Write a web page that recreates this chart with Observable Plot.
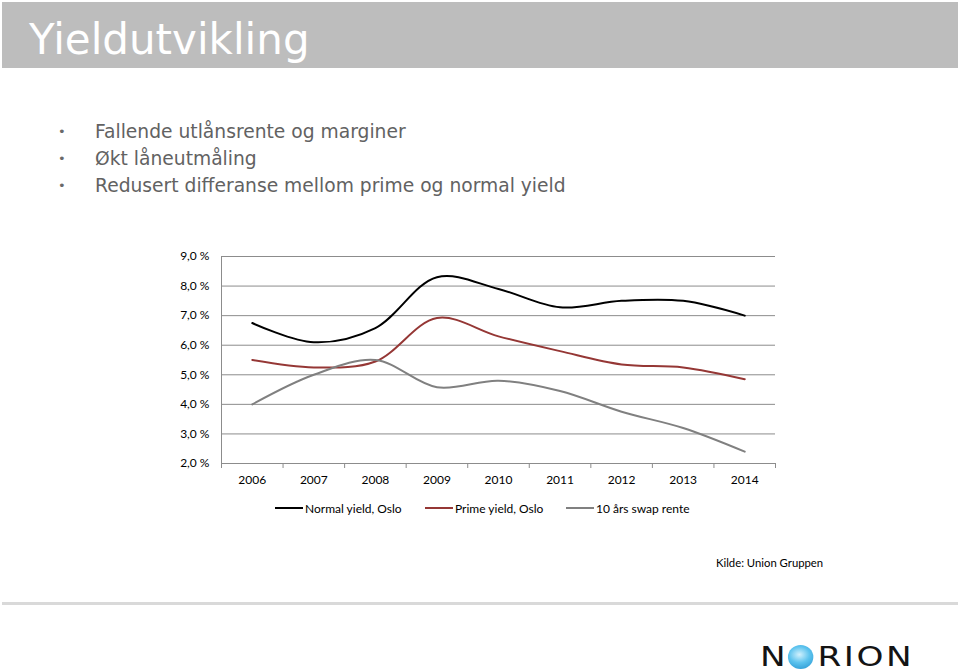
<!DOCTYPE html>
<html>
<head>
<meta charset="utf-8">
<script src="https://cdn.jsdelivr.net/npm/d3@7"></script>
<script src="https://cdn.jsdelivr.net/npm/@observablehq/plot@0.6"></script>
<style>
  html, body { margin: 0; padding: 0; background: #fff; }
  body { width: 960px; height: 672px; position: relative; overflow: hidden; font-family: "DejaVu Sans", sans-serif; }
  #titlebar { position: absolute; left: 2px; top: 2px; width: 956px; height: 66px; background: #bdbdbd; }
  #title { position: absolute; left: 27px; top: 17px; font-size: 42px; color: #fff; font-family: "DejaVu Sans", sans-serif; line-height: 1; margin: 0; font-weight: normal; }
  ul#bullets { position: absolute; left: 0; top: 118px; margin: 0; padding: 0; list-style: none; }
  ul#bullets li { position: relative; padding-left: 95px; font-size: 18.7px; line-height: 27px; color: #626262; white-space: nowrap; }
  ul#bullets li::before { content: "•"; position: absolute; left: 58px; top: 0; font-size: 13px; color: #6a6a6a; }
  #chart { position: absolute; left: 160px; top: 240px; }
  #legend { position: absolute; top: 500px; left: 0; width: 960px; font-family: Lato, "Open Sans", sans-serif; font-size: 12px; color: #000; }
  .lg { position: absolute; top: 0; display: flex; align-items: center; height: 16px; white-space: nowrap; }
  .lg span.sw { display: inline-block; width: 28px; height: 2px; margin-right: 2px; }
  #caption { position: absolute; left: 716px; top: 556px; font-family: Lato, "Open Sans", sans-serif; font-size: 11.3px; color: #000; white-space: nowrap; }
  #sep { position: absolute; left: 2px; top: 602px; width: 956px; height: 3px; background: #d9d9d9; }
  #logo { position: absolute; left: 760px; top: 642px; height: 30px; display: flex; align-items: center; font-family: "DejaVu Sans", sans-serif; font-size: 27px; letter-spacing: 2px; color: #141414; line-height: 30px; white-space: nowrap; transform: scaleX(1.27); transform-origin: 0 50%; }
  #logo .o { display: inline-block; width: 20px; height: 24px; border-radius: 50%; background: radial-gradient(circle at 45% 40%, #d2f1fd 0%, #5cc3ee 45%, #1f8fcd 100%); color: transparent; font-size: 20px; line-height: 24px; letter-spacing: 0; margin: 0 3px 0 0; overflow: hidden; text-align: center; }
</style>
</head>
<body>
<div id="titlebar"><h1 id="title">Yieldutvikling</h1></div>
<ul id="bullets"></ul>
<div id="chart"></div>
<div id="legend"></div>
<div id="caption">Kilde: Union Gruppen</div>
<div id="sep"></div>
<div id="logo">N<span class="o">O</span>RION</div>
<script>
const bullets = ["Fallende utlånsrente og marginer", "Økt låneutmåling", "Redusert differanse mellom prime og normal yield"];
const years = [2006, 2007, 2008, 2009, 2010, 2011, 2012, 2013, 2014];
const normalYield = [6.75, 6.1, 6.58, 8.3, 7.9, 7.28, 7.5, 7.5, 7.0];
const primeYield = [5.5, 5.25, 5.45, 6.92, 6.3, 5.8, 5.35, 5.25, 4.85];
const swapRate = [4.0, 5.0, 5.5, 4.58, 4.8, 4.45, 3.75, 3.2, 2.4];
const yTicks = [2, 3, 4, 5, 6, 7, 8, 9];
const seriesNames = ["Normal yield, Oslo", "Prime yield, Oslo", "10 års swap rente"];
const seriesColors = ["#000000", "#953735", "#808080"];

document.getElementById("bullets").innerHTML = bullets.map(b => `<li>${b}</li>`).join("");

const seriesValues = [normalYield, primeYield, swapRate];
const data = seriesNames.flatMap((name, i) => years.map((y, j) => ({series: name, year: y, value: seriesValues[i][j]})));
const bounds = [...years.map(y => y - 0.5), years[years.length - 1] + 0.5];

const chart = Plot.plot({
  width: 640,
  height: 260,
  marginLeft: 61,
  marginRight: 25,
  marginTop: 16,
  marginBottom: 37,
  style: {fontFamily: "Lato, 'Open Sans', sans-serif", fontSize: "12px", color: "#000", background: "transparent"},
  x: {domain: [bounds[0], bounds[bounds.length - 1]]},
  y: {domain: [2, 9]},
  color: {domain: seriesNames, range: seriesColors},
  marks: [
    Plot.ruleY(yTicks, {stroke: "#8c8c8c", strokeWidth: 1}),
    Plot.ruleX([bounds[0]], {y1: 2, y2: 9, stroke: "#8c8c8c"}),
    Plot.axisX({ticks: bounds, tickSize: 5, tickFormat: () => "", stroke: "#8c8c8c", strokeOpacity: 1, label: null}),
    Plot.axisX({ticks: years, tickSize: 0, tickPadding: 12, tickFormat: d => String(d), label: null, fill: "#000"}),
    Plot.axisY({ticks: yTicks, tickSize: 0, tickPadding: 12, tickFormat: d => d.toFixed(1).replace(".", ",") + " %", label: null, fill: "#000"}),
    Plot.line(data, {x: "year", y: "value", z: "series", stroke: "series", strokeWidth: 2, curve: "catmull-rom"})
  ]
});
document.getElementById("chart").appendChild(chart);

const legendX = [275, 425, 566];
document.getElementById("legend").innerHTML = seriesNames.map((n, i) =>
  `<div class="lg" style="left:${legendX[i]}px"><span class="sw" style="background:${seriesColors[i]}"></span>${n}</div>`).join("");
</script>
</body>
</html>
